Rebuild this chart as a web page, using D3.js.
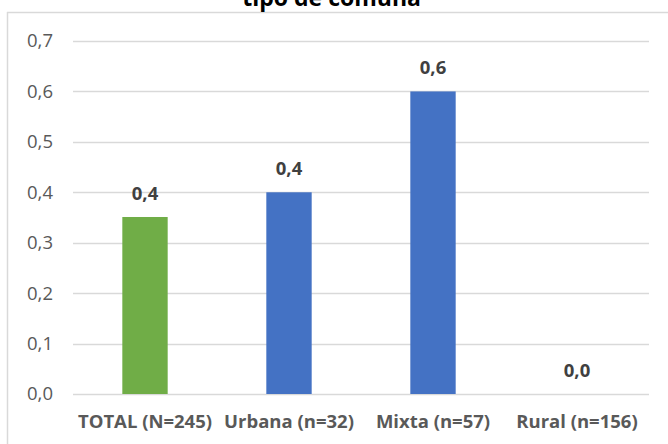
<!DOCTYPE html>
<html lang="es">
<head>
<meta charset="utf-8">
<title>tipo de comuna</title>
<script src="https://cdn.jsdelivr.net/npm/d3@7"></script>
<style>
  body { margin: 0; background: #fff; }
  svg { display: block; font-family: "Open Sans", sans-serif; }
</style>
</head>
<body>
<script>
// data
var categories = ["TOTAL (N=245)", "Urbana (n=32)", "Mixta (n=57)", "Rural (n=156)"];
var values = [0.351, 0.4, 0.6, 0.0];
var barColors = ["#70AD47", "#4472C4", "#4472C4", "#4472C4"];
var yTicks = [0, 0.1, 0.2, 0.3, 0.4, 0.5, 0.6, 0.7];

var w = 668, h = 444;
var plotLeft = 73, plotRight = 649, plotTop = 41, plotBottom = 394;
var fs = 18.5;

var svg = d3.select("body").append("svg")
  .attr("width", w)
  .attr("height", h);

// chart frame (only top and left edges show in the crop)
svg.append("line")
  .attr("x1", 7).attr("x2", w).attr("y1", 12.5).attr("y2", 12.5)
  .attr("stroke", "#d9d9d9").attr("stroke-width", 1.5);
svg.append("line")
  .attr("x1", 7.5).attr("x2", 7.5).attr("y1", 12).attr("y2", h)
  .attr("stroke", "#d9d9d9").attr("stroke-width", 1.5);

// title, cut off at the top
svg.append("text")
  .attr("x", 336).attr("y", 6)
  .attr("text-anchor", "middle")
  .attr("font-size", 23).attr("font-weight", "bold")
  .attr("fill", "#000")
  .text("tipo de comuna¹");

var x = d3.scaleBand().domain(categories).range([plotLeft, plotRight]).paddingInner(0.685).paddingOuter(0.3425);
var y = d3.scaleLinear().domain([0, 0.7]).range([plotBottom, plotTop]);
var fmt = function(v) { return d3.format(".1f")(v).replace(".", ","); };

// gridlines
svg.append("g").selectAll("line")
  .data(yTicks)
  .enter().append("line")
  .attr("x1", plotLeft).attr("x2", plotRight)
  .attr("y1", function(d) { return Math.round(y(d)) + 0.5; })
  .attr("y2", function(d) { return Math.round(y(d)) + 0.5; })
  .attr("stroke", "#d9d9d9").attr("stroke-width", 1.5);

// y axis labels
var yAxis = d3.axisLeft(y).tickValues(yTicks).tickFormat(fmt).tickSize(0).tickPadding(20);
var ya = svg.append("g").attr("transform", "translate(" + plotLeft + ",0)").call(yAxis);
ya.select(".domain").remove();
ya.selectAll("text").attr("font-size", fs).attr("fill", "#595959").attr("font-family", "'Open Sans', sans-serif");

// bars
svg.append("g").selectAll("rect")
  .data(values)
  .enter().append("rect")
  .attr("x", function(d, i) { return x(categories[i]); })
  .attr("width", x.bandwidth())
  .attr("y", function(d) { return y(d); })
  .attr("height", function(d) { return y(0) - y(d); })
  .attr("fill", function(d, i) { return barColors[i]; });

// value labels
svg.append("g").selectAll("text")
  .data(values)
  .enter().append("text")
  .attr("x", function(d, i) { return x(categories[i]) + x.bandwidth() / 2; })
  .attr("y", function(d) { return y(d) - 17; })
  .attr("text-anchor", "middle")
  .attr("font-size", fs).attr("font-weight", "bold")
  .attr("fill", "#404040")
  .text(function(d) { return fmt(d); });

// x axis labels
var xAxis = d3.axisBottom(x).tickSize(0).tickPadding(21);
var xa = svg.append("g").attr("transform", "translate(0," + plotBottom + ")").call(xAxis);
xa.select(".domain").remove();
xa.selectAll("text").attr("font-size", fs).attr("font-weight", "bold").attr("fill", "#595959").attr("font-family", "'Open Sans', sans-serif");
</script>
</body>
</html>
